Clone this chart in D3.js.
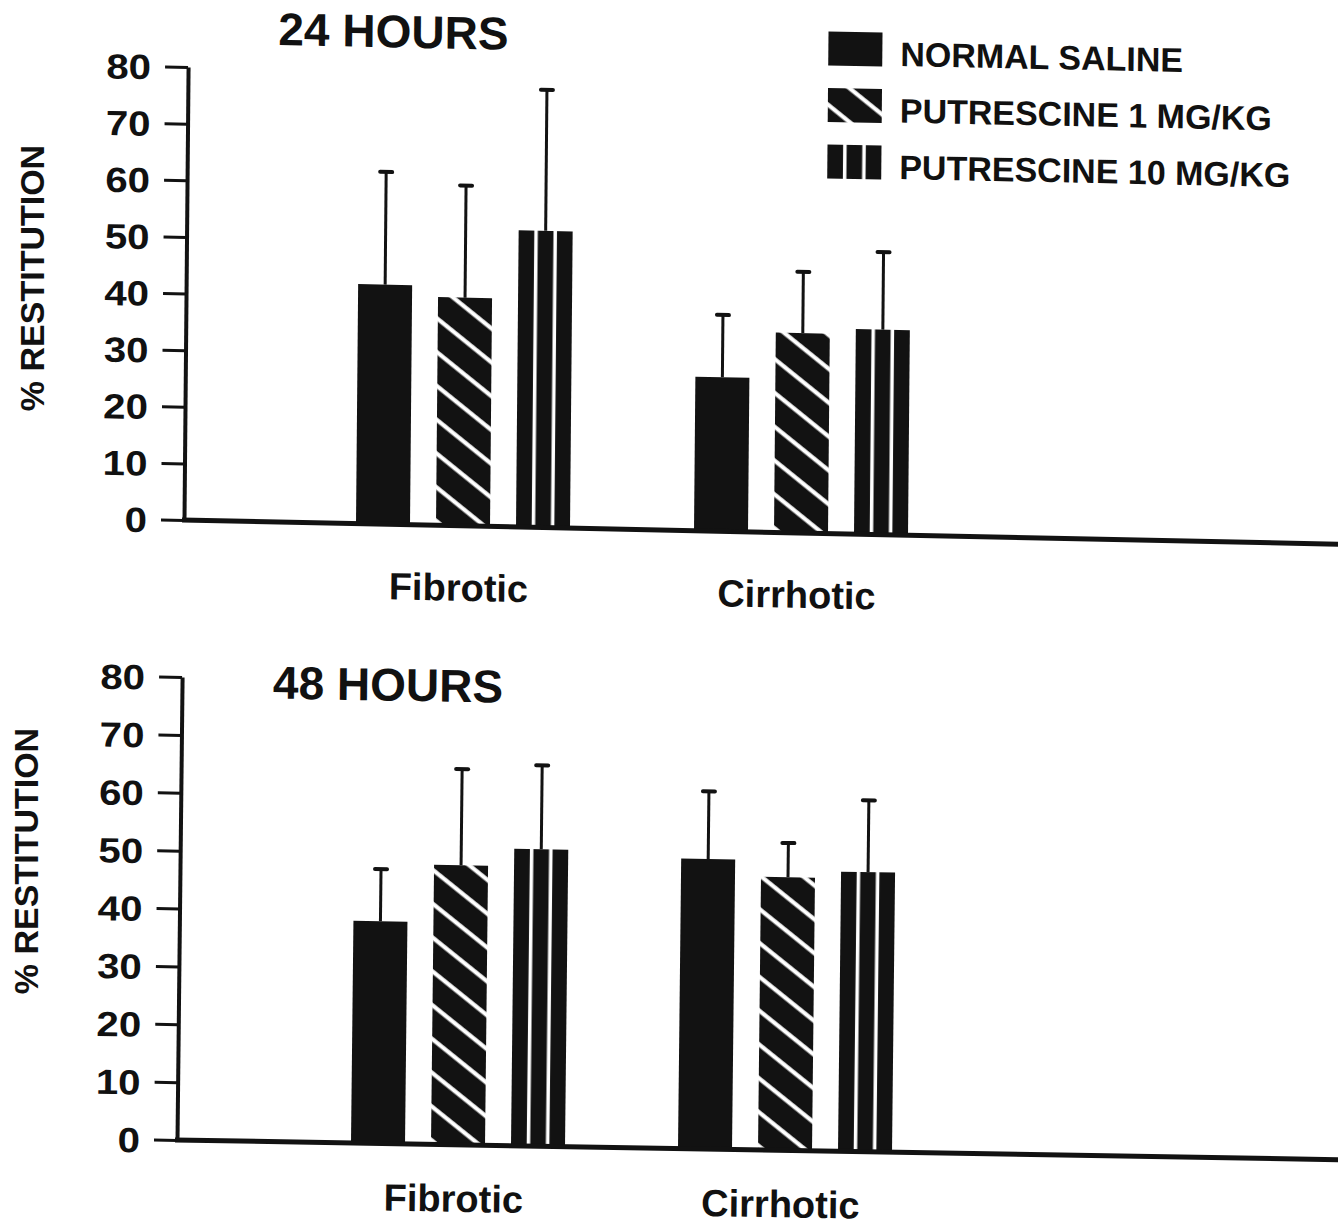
<!DOCTYPE html>
<html>
<head>
<meta charset="utf-8">
<script src="https://cdn.jsdelivr.net/npm/d3@7"></script>
<style>
  html, body { margin: 0; padding: 0; background: #fff; }
  svg { display: block; }
  text { font-family: "Liberation Sans", Arial, Helvetica, sans-serif; font-weight: 700; fill: #111; }
</style>
</head>
<body>
<svg id="chart" width="1338" height="1226"></svg>
<script>
// ---- data -------------------------------------------------------------
const groups = ["Fibrotic", "Cirrhotic"];
const series = ["NORMAL SALINE", "PUTRESCINE 1 MG/KG", "PUTRESCINE 10 MG/KG"];
const yTicks = [0, 10, 20, 30, 40, 50, 60, 70, 80];
const titles = ["24 HOURS", "48 HOURS"];
const yLabel = "% RESTITUTION";

// mean % restitution per treatment (saline, putrescine 1, putrescine 10)
const mean24Fibrotic  = [42.3, 40.3, 52.4];
const mean24Cirrhotic = [27.2, 35.3, 36.2];
const mean48Fibrotic  = [38.4, 48.3, 51.3];
const mean48Cirrhotic = [50.1, 47.2, 48.3];
// upper error bar length
const err24Fibrotic  = [19.9, 19.8, 24.9];
const err24Cirrhotic = [11.0, 10.8, 13.7];
const err48Fibrotic  = [9.0, 16.6, 14.5];
const err48Cirrhotic = [11.7, 5.9, 12.4];

// ---- layout -----------------------------------------------------------
const ink = "#121212";
const svg = d3.select("#chart");

const panels = [
  { title: titles[0], means: [mean24Fibrotic, mean24Cirrhotic], errs: [err24Fibrotic, err24Cirrhotic],
    origin: [184, 520], skew: [0.021, -0.009], height: 453, groupRange: [279, 617],
    titleAt: [90, -477], catDy: 75, yLabelAt: [32, 278], legend: true },
  { title: titles[1], means: [mean48Fibrotic, mean48Cirrhotic], errs: [err48Fibrotic, err48Cirrhotic],
    origin: [177, 1140], skew: [0.017, -0.011], height: 463, groupRange: [281, 608],
    titleAt: [91, -443], catDy: 67, yLabelAt: [26, 861], legend: false }
];

// fills: solid, diagonal hatch, vertical bars
const defs = svg.append("defs");
const hatch = defs.append("pattern")
  .attr("id", "hatch")
  .attr("patternUnits", "userSpaceOnUse")
  .attr("width", 10).attr("height", 26.5)
  .attr("patternTransform", "rotate(38)");
hatch.append("rect").attr("width", 10).attr("height", 26.5).attr("fill", ink);
hatch.append("rect").attr("y", 11).attr("width", 10).attr("height", 4.2).attr("fill", "#fff");

const stripes = defs.append("pattern")
  .attr("id", "stripes")
  .attr("patternUnits", "objectBoundingBox")
  .attr("patternContentUnits", "objectBoundingBox")
  .attr("width", 1).attr("height", 1);
[0, 0.355, 0.71].forEach(x0 =>
  stripes.append("rect").attr("x", x0).attr("y", 0).attr("width", 0.29).attr("height", 1).attr("fill", ink));

const fills = [ink, "url(#hatch)", "url(#stripes)"];

// bars within a group (units along the baseline)
const sx = d3.scaleBand().domain(series).range([-107, 107]).paddingInner(0.325).paddingOuter(0);

panels.forEach(p => {
  const y = d3.scaleLinear().domain([0, 80]).range([0, -p.height]);
  const gx = d3.scalePoint().domain(groups).range(p.groupRange);
  const [ox, oy] = p.origin;
  const [ky, kx] = p.skew;
  const g = svg.append("g")
    .attr("transform", `matrix(1,${ky},${kx},1,${ox},${oy})`);

  // bars
  groups.forEach((grp, gi) => {
    const rows = series.map((s, si) => ({ s, si, m: p.means[gi][si], e: p.errs[gi][si] }));
    const gg = g.append("g").attr("transform", `translate(${gx(grp)},0)`);

    // error bars
    gg.selectAll("line.err").data(rows).join("line")
      .attr("class", "err")
      .attr("x1", d => sx(d.s) + sx.bandwidth() / 2)
      .attr("x2", d => sx(d.s) + sx.bandwidth() / 2)
      .attr("y1", d => y(d.m))
      .attr("y2", d => y(d.m + d.e))
      .attr("stroke", ink).attr("stroke-width", 3);
    gg.selectAll("line.cap").data(rows).join("line")
      .attr("class", "cap")
      .attr("x1", d => sx(d.s) + sx.bandwidth() / 2 - 6)
      .attr("x2", d => sx(d.s) + sx.bandwidth() / 2 + 6)
      .attr("y1", d => y(d.m + d.e))
      .attr("y2", d => y(d.m + d.e))
      .attr("stroke", ink).attr("stroke-width", 4).attr("stroke-linecap", "round");

    gg.selectAll("rect.bar").data(rows).join("rect")
      .attr("class", "bar")
      .attr("x", d => sx(d.s))
      .attr("width", sx.bandwidth())
      .attr("y", d => y(d.m))
      .attr("height", d => -y(d.m))
      .attr("fill", d => fills[d.si]);
  });

  // baseline running off to the right
  g.append("line")
    .attr("x1", -2).attr("x2", 1200)
    .attr("y1", 0).attr("y2", 0)
    .attr("stroke", ink).attr("stroke-width", 5);

  // y axis
  const ax = g.append("g").call(
    d3.axisLeft(y).tickValues(yTicks).tickSize(23).tickSizeOuter(0).tickFormat(d3.format("d"))
  );
  ax.select(".domain").attr("stroke", ink).attr("stroke-width", 4);
  ax.selectAll(".tick line").attr("stroke", ink).attr("stroke-width", 3);
  ax.selectAll(".tick text")
    .attr("x", null).attr("dy", "0.36em")
    .attr("transform", "translate(-37,0) scale(1.15,1)")
    .attr("text-anchor", "end")
    .style("font-family", '"Liberation Sans", Arial, sans-serif')
    .style("font-weight", 700)
    .style("font-size", "35px")
    .attr("fill", ink);

  // category labels
  g.selectAll("text.cat").data(groups).join("text")
    .attr("class", "cat")
    .attr("x", d => gx(d) - 4)
    .attr("y", p.catDy)
    .attr("text-anchor", "middle")
    .style("font-size", "38px")
    .text(d => d);

  // panel title
  g.append("text")
    .attr("x", p.titleAt[0]).attr("y", p.titleAt[1])
    .style("font-size", "46px")
    .text(p.title);

  // y label
  svg.append("text")
    .attr("transform", `translate(${p.yLabelAt[0]},${p.yLabelAt[1]}) rotate(-90)`)
    .attr("text-anchor", "middle")
    .attr("dy", "0.36em")
    .style("font-size", "34px")
    .text(yLabel);

  // legend
  if (p.legend) {
    const lg = g.append("g").attr("transform", "translate(640,-502)");
    const row = lg.selectAll("g").data(series).join("g")
      .attr("transform", (d, i) => `translate(0,${i * 56.5})`);
    row.append("rect")
      .attr("width", 54).attr("height", 34)
      .attr("fill", (d, i) => fills[i]);
    row.append("text")
      .attr("x", 72).attr("y", 33)
      .style("font-size", "34px")
      .text(d => d);
  }
});
</script>
</body>
</html>
